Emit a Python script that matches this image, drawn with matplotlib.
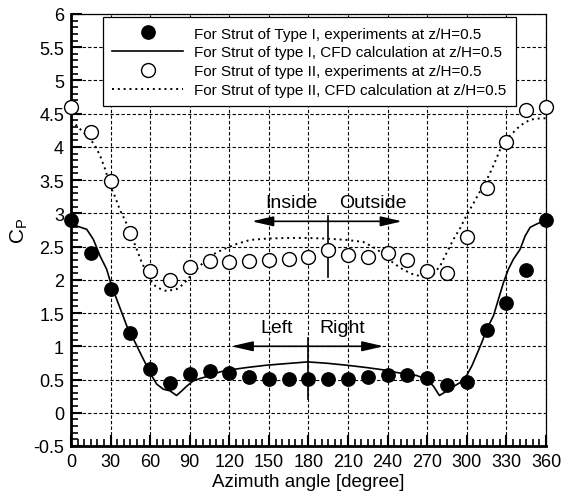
import numpy as np
import matplotlib.pyplot as plt
from matplotlib.ticker import MultipleLocator, FuncFormatter

plt.rcParams['font.family'] = ['Liberation Sans', 'DejaVu Sans']
plt.rcParams['mathtext.default'] = 'regular'
plt.rcParams['axes.unicode_minus'] = False

# --- Measured pressure coefficients (every 15 degrees) ---
exp_angle = np.arange(0, 361, 15)
cp_exp_type1 = [2.90, 2.40, 1.86, 1.20, 0.66, 0.45, 0.58, 0.63, 0.60, 0.54,
                0.51, 0.515, 0.505, 0.505, 0.515, 0.54, 0.565, 0.575, 0.53,
                0.41, 0.47, 1.24, 1.65, 2.15, 2.90]
cp_exp_type2 = [4.60, 4.23, 3.49, 2.70, 2.14, 2.00, 2.19, 2.28, 2.27, 2.28,
                2.30, 2.31, 2.35, 2.45, 2.37, 2.35, 2.40, 2.30, 2.13, 2.11,
                2.64, 3.38, 4.07, 4.55, 4.60]

# --- CFD results ---
cfd1_angle = [0, 4.3, 11.9, 16.9, 22, 27, 30.8, 34.6, 38.4, 42.2, 46, 49.8,
              53.6, 57.4, 61.2, 65, 70, 75, 80, 84, 87.7, 92.7, 97.8, 102.9,
              113, 120.5, 133, 148, 163.5, 179.4, 193.8, 209, 224, 236.8, 247,
              254, 262, 269.7, 274.7, 279.2, 283.5, 288.6, 295, 300, 303.8,
              307.6, 311.4, 315.2, 320.2, 324, 327.8, 331.5, 335.3, 340.4,
              344.2, 348, 353, 360]
cfd1_cp = [2.90, 2.81, 2.76, 2.61, 2.36, 2.16, 1.91, 1.71, 1.51, 1.31, 1.16,
           1.01, 0.855, 0.705, 0.555, 0.43, 0.354, 0.33, 0.26, 0.33, 0.40,
           0.48, 0.515, 0.545, 0.615, 0.645, 0.68, 0.715, 0.74, 0.765, 0.745,
           0.715, 0.68, 0.645, 0.605, 0.585, 0.56, 0.50, 0.40, 0.26, 0.31,
           0.38, 0.455, 0.565, 0.705, 0.88, 1.06, 1.26, 1.46, 1.71, 1.96,
           2.16, 2.31, 2.46, 2.66, 2.79, 2.84, 2.90]

cfd2_angle = [0, 4.3, 9.3, 14.4, 18.2, 22, 25.8, 29.6, 33.4, 37.1, 40.9, 44.7,
              49.8, 53.6, 57.4, 61.2, 65, 72.5, 80, 85.2, 90.2, 97.8, 105.4,
              115.5, 125.6, 135.7, 148.4, 163.5, 178.6, 193.8, 209, 221.6,
              229.2, 236.8, 244.4, 252, 259.5, 269.7, 274.7, 279.8, 284.8,
              289.9, 295, 300, 305, 310, 315, 320.2, 326.5, 332.8, 340.4, 348,
              355.6, 360]
cfd2_cp = [4.39, 4.32, 4.22, 4.12, 4.02, 3.87, 3.67, 3.42, 3.25, 3.05, 2.90,
           2.72, 2.46, 2.26, 2.11, 1.96, 1.885, 1.83, 1.86, 1.935, 2.05, 2.21,
           2.36, 2.46, 2.54, 2.60, 2.62, 2.63, 2.63, 2.62, 2.60, 2.57, 2.49,
           2.39, 2.25, 2.15, 2.08, 2.035, 2.085, 2.21, 2.41, 2.61, 2.78, 2.98,
           3.15, 3.33, 3.50, 3.72, 4.02, 4.17, 4.32, 4.41, 4.43, 4.43]

fig = plt.figure(figsize=(5.63, 5.02), dpi=100)
ax = fig.add_axes([0.1261, 0.1096, 0.8437, 0.8606])

ax.plot(exp_angle, cp_exp_type1, 'o', color='black', ms=9.6, mec='black',
        label='For Strut of Type I, experiments at z/H=0.5', zorder=4,
        clip_on=False)
ax.plot(cfd1_angle, cfd1_cp, '-', color='black', lw=1.2,
        label='For Strut of type I, CFD calculation at z/H=0.5', zorder=3)
ax.plot(exp_angle, cp_exp_type2, 'o', mfc='white', mec='black', mew=1.0, ms=10,
        label='For Strut of type II, experiments at z/H=0.5', zorder=4,
        clip_on=False)
ax.plot(cfd2_angle, cfd2_cp, color='black', lw=1.4, ls=(0, (1, 2)),
        label='For Strut of type II, CFD calculation at z/H=0.5', zorder=3)

# direction arrows
arrow = dict(arrowstyle='-|>,head_length=1.3,head_width=0.3', color='black',
             lw=1.2, shrinkA=0, shrinkB=0)
ax.annotate('', xy=(137, 2.88), xytext=(195, 2.88), arrowprops=arrow)
ax.annotate('', xy=(251, 2.88), xytext=(195, 2.88), arrowprops=arrow)
ax.plot([195, 195], [2.04, 2.96], color='black', lw=1.2)
ax.text(167, 3.17, 'Inside', ha='center', va='center', fontsize=14)
ax.text(229, 3.17, 'Outside', ha='center', va='center', fontsize=14)

ax.annotate('', xy=(121.5, 1.0), xytext=(179.5, 1.0), arrowprops=arrow)
ax.annotate('', xy=(237, 1.0), xytext=(179.5, 1.0), arrowprops=arrow)
ax.plot([179.5, 179.5], [0.2, 1.12], color='black', lw=1.2)
ax.text(156, 1.28, 'Left', ha='center', va='center', fontsize=14)
ax.text(205.5, 1.28, 'Right', ha='center', va='center', fontsize=14)

ax.set_xlim(0, 360)
ax.set_ylim(-0.5, 6)
ax.xaxis.set_major_locator(MultipleLocator(30))
ax.xaxis.set_minor_locator(MultipleLocator(5))
ax.yaxis.set_major_locator(MultipleLocator(0.5))
ax.yaxis.set_minor_locator(MultipleLocator(0.1))
ax.yaxis.set_major_formatter(FuncFormatter(lambda v, p: f'{v:g}'))
ax.tick_params(which='major', direction='in', length=8, width=1.5,
               labelsize=13, pad=5)
ax.tick_params(which='minor', direction='in', length=5, width=1.2)
ax.tick_params(which='both', top=False, right=False)

ax.grid(True, which='major', color='black', ls=(0, (3, 2)), lw=0.8)
for side in ['left', 'bottom']:
    ax.spines[side].set_linewidth(2)
for side in ['top', 'right']:
    ax.spines[side].set_linewidth(0.9)

ax.set_xlabel('Azimuth angle [degree]', fontsize=13.5, labelpad=2)
ax.set_ylabel('C$_P$', fontsize=15, labelpad=2)

leg = ax.legend(loc='upper left', bbox_to_anchor=(0.068, 0.992), fontsize=11,
                frameon=True, fancybox=False, edgecolor='black',
                handlelength=4.6, labelspacing=0.32, borderpad=0.6,
                handletextpad=0.75, borderaxespad=0)
leg.get_frame().set_linewidth(0.9)
leg.get_frame().set_alpha(1)

fig.savefig('out.png', dpi=100)
